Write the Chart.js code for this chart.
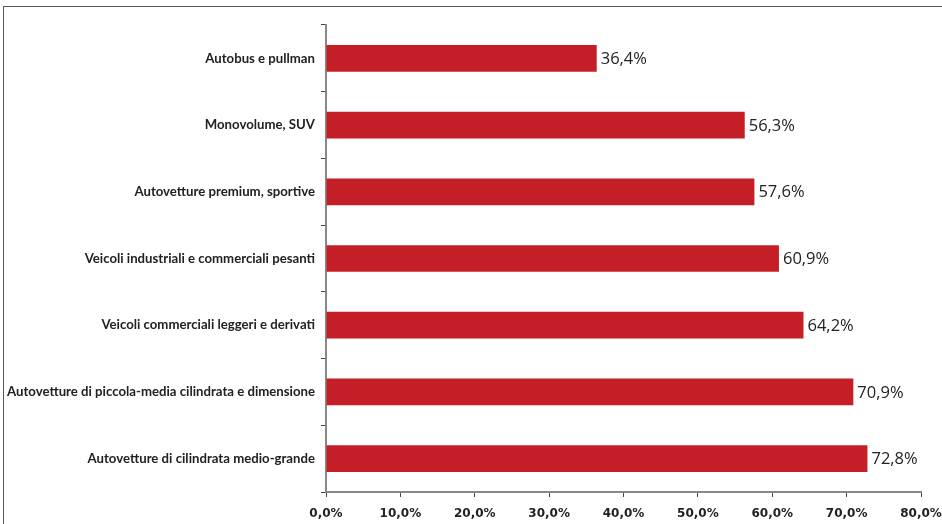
<!DOCTYPE html>
<html>
<head>
<meta charset="utf-8">
<script src="https://cdn.jsdelivr.net/npm/chart.js@4/dist/chart.umd.min.js"></script>
<style>
  html, body { margin: 0; padding: 0; background: #fff; }
  #wrap { position: relative; width: 942px; height: 524px; overflow: hidden; }
  #frame { position: absolute; left: 3px; top: 6px; width: 1000px; height: 600px;
           border-left: 1.5px solid #555; border-top: 1.5px solid #555; }
  #c { position: absolute; left: 0; top: 0; }
</style>
</head>
<body>
<div id="wrap">
  <div id="frame"></div>
  <canvas id="c" width="942" height="524"></canvas>
</div>
<script>
const categories = [
  "Autobus e pullman",
  "Monovolume, SUV",
  "Autovetture premium, sportive",
  "Veicoli industriali e commerciali pesanti",
  "Veicoli commerciali leggeri e derivati",
  "Autovetture di piccola-media cilindrata e dimensione",
  "Autovetture di cilindrata medio-grande"
];
const shares = [36.4, 56.3, 57.6, 60.9, 64.2, 70.9, 72.8];
const xTicks = [0, 10, 20, 30, 40, 50, 60, 70, 80];

const fmt = (v, d) => v.toFixed(d).replace('.', ',') + '%';

const valueLabels = {
  id: 'valueLabels',
  afterDatasetsDraw(chart) {
    const ctx = chart.ctx;
    const meta = chart.getDatasetMeta(0);
    ctx.save();
    ctx.font = '16.5px "Open Sans", "Noto Sans", sans-serif';
    ctx.fillStyle = '#222';
    ctx.textAlign = 'left';
    ctx.textBaseline = 'middle';
    meta.data.forEach((bar, i) => {
      ctx.fillText(fmt(shares[i], 1), bar.x + 4, bar.y + 1);
    });
    ctx.restore();
  }
};

new Chart(document.getElementById('c'), {
  type: 'bar',
  data: {
    labels: categories,
    datasets: [{
      data: shares,
      backgroundColor: '#C41F27',
      borderWidth: 0,
      barPercentage: 0.8,
      categoryPercentage: 0.5
    }]
  },
  plugins: [valueLabels],
  options: {
    indexAxis: 'y',
    responsive: false,
    animation: false,
    layout: { padding: { left: 0, right: 0, top: 25, bottom: 0 } },
    plugins: { legend: { display: false }, tooltip: { enabled: false } },
    scales: {
      x: {
        min: 0, max: 80,
        afterBuildTicks(scale) { scale.ticks = xTicks.map(v => ({ value: v })); },
        afterFit(scale) {
          scale.height = 32;
          scale.paddingLeft = 0;
          scale.paddingRight = 21;
        },
        border: { display: true, color: '#888', width: 2 },
        grid: { display: true, drawOnChartArea: false, drawTicks: true, tickLength: 5, color: '#444' },
        ticks: {
          padding: 10,
          color: '#222',
          font: { family: '"DejaVu Sans", sans-serif', size: 12, weight: 'bold' },
          callback: v => fmt(v, 1)
        }
      },
      y: {
        afterFit(scale) { scale.width = 326; },
        border: { display: true, color: '#888', width: 2 },
        grid: { display: true, offset: true, drawOnChartArea: false, drawTicks: true, tickLength: 5, color: '#444' },
        ticks: {
          padding: 6,
          color: '#222',
          font: { family: 'Lato, "Open Sans", sans-serif', size: 13.2, weight: 'bold' }
        }
      }
    }
  }
});
</script>
</body>
</html>
